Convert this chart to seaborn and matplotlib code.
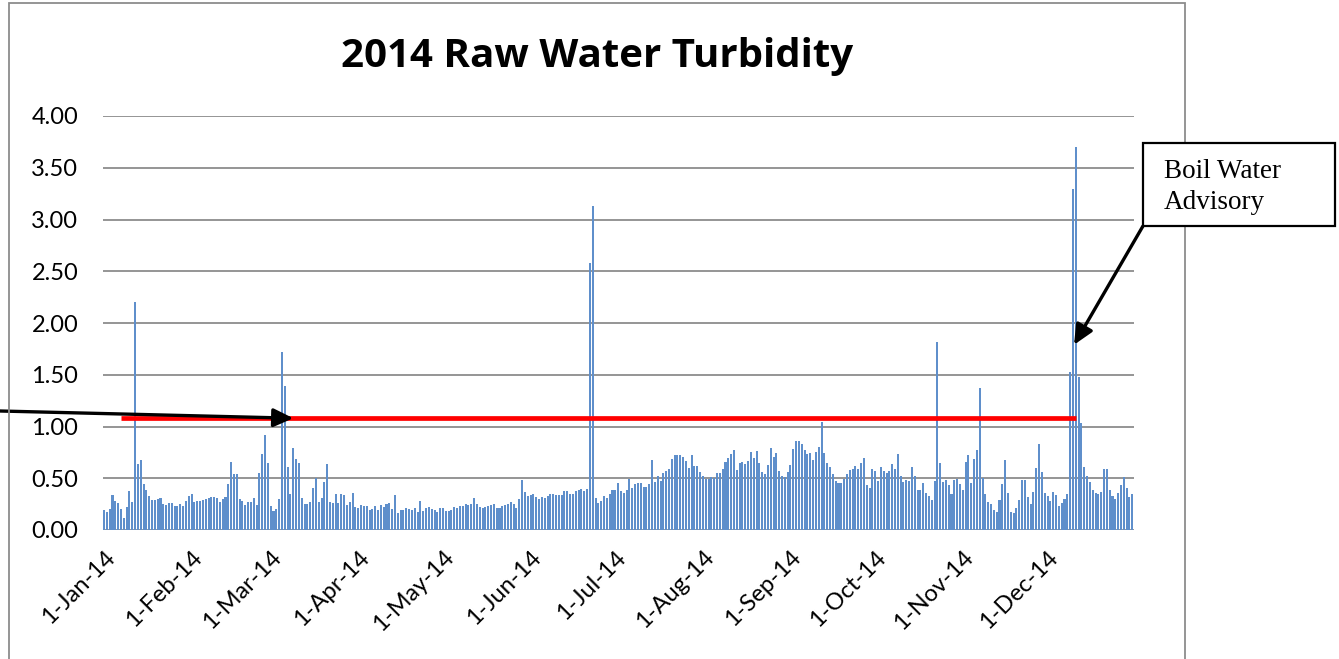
import numpy as np
import pandas as pd
import matplotlib
matplotlib.use("Agg")
import matplotlib.pyplot as plt
from matplotlib.patches import Rectangle
import seaborn as sns

# ---- data: daily raw water turbidity, 2014 ----
jan = [0.19, 0.17, 0.20, 0.34, 0.28, 0.26, 0.20, 0.12, 0.22, 0.38, 0.27, 2.20, 0.64, 0.68, 0.44, 0.39,
       0.33, 0.29, 0.29, 0.30, 0.31, 0.25, 0.24, 0.26, 0.26, 0.23, 0.23, 0.25, 0.23, 0.28, 0.33]
feb = [0.35, 0.27, 0.28, 0.28, 0.29, 0.30, 0.31, 0.32, 0.32, 0.31, 0.27, 0.30, 0.32, 0.44, 0.66, 0.54,
       0.54, 0.30, 0.28, 0.24, 0.27, 0.27, 0.31, 0.24, 0.55, 0.73, 0.92, 0.65]
mar = [0.23, 0.18, 0.20, 0.30, 1.72, 1.39, 0.61, 0.35, 0.79, 0.69, 0.65, 0.31, 0.25, 0.25, 0.27, 0.41,
       0.50, 0.27, 0.31, 0.46, 0.64, 0.27, 0.26, 0.35, 0.26, 0.35, 0.34, 0.24, 0.27, 0.36, 0.22]
apr = [0.21, 0.24, 0.23, 0.23, 0.19, 0.20, 0.23, 0.19, 0.24, 0.22, 0.25, 0.26, 0.20, 0.34, 0.16, 0.19,
       0.19, 0.21, 0.20, 0.19, 0.21, 0.17, 0.28, 0.18, 0.21, 0.22, 0.20, 0.19, 0.17, 0.21]
may = [0.21, 0.18, 0.18, 0.19, 0.22, 0.21, 0.23, 0.23, 0.25, 0.24, 0.25, 0.31, 0.25, 0.22, 0.21, 0.22,
       0.23, 0.24, 0.25, 0.21, 0.21, 0.23, 0.24, 0.25, 0.27, 0.25, 0.21, 0.30, 0.48, 0.37, 0.33]
jun = [0.34, 0.35, 0.32, 0.30, 0.32, 0.31, 0.33, 0.35, 0.35, 0.34, 0.34, 0.34, 0.38, 0.38, 0.35, 0.35,
       0.38, 0.39, 0.40, 0.38, 0.40, 2.58, 3.13, 0.31, 0.26, 0.28, 0.33, 0.31, 0.35, 0.39]
jul = [0.39, 0.45, 0.38, 0.36, 0.39, 0.49, 0.41, 0.44, 0.45, 0.45, 0.42, 0.42, 0.44, 0.68, 0.46, 0.52,
       0.47, 0.55, 0.57, 0.59, 0.69, 0.72, 0.72, 0.72, 0.71, 0.67, 0.60, 0.72, 0.62, 0.62, 0.56]
aug = [0.52, 0.49, 0.49, 0.51, 0.50, 0.55, 0.55, 0.59, 0.66, 0.70, 0.73, 0.77, 0.58, 0.65, 0.66, 0.64,
       0.67, 0.75, 0.70, 0.76, 0.65, 0.56, 0.54, 0.63, 0.79, 0.71, 0.74, 0.57, 0.52, 0.51, 0.56]
sep = [0.63, 0.78, 0.86, 0.86, 0.83, 0.77, 0.73, 0.74, 0.68, 0.75, 0.80, 1.04, 0.74, 0.65, 0.61, 0.54,
       0.47, 0.45, 0.45, 0.49, 0.54, 0.58, 0.59, 0.62, 0.59, 0.65, 0.70, 0.43, 0.41, 0.59]
oct_ = [0.57, 0.47, 0.61, 0.57, 0.55, 0.57, 0.64, 0.59, 0.73, 0.52, 0.46, 0.48, 0.47, 0.61, 0.52, 0.39,
        0.39, 0.45, 0.36, 0.33, 0.29, 0.47, 1.82, 0.65, 0.46, 0.48, 0.43, 0.35, 0.48, 0.49, 0.44]
nov = [0.39, 0.66, 0.72, 0.45, 0.69, 0.77, 1.37, 0.50, 0.35, 0.27, 0.25, 0.19, 0.17, 0.29, 0.44, 0.68,
       0.36, 0.17, 0.16, 0.21, 0.29, 0.48, 0.48, 0.32, 0.25, 0.37, 0.60, 0.83, 0.56, 0.36]
dec = [0.33, 0.28, 0.37, 0.34, 0.23, 0.26, 0.30, 0.35, 1.53, 3.29, 3.70, 1.48, 1.03, 0.61, 0.52, 0.46,
       0.39, 0.36, 0.35, 0.37, 0.59, 0.59, 0.39, 0.33, 0.30, 0.36, 0.43, 0.51, 0.41, 0.32, 0.35]

month_labels = ["1-Jan-14", "1-Feb-14", "1-Mar-14", "1-Apr-14", "1-May-14", "1-Jun-14",
                "1-Jul-14", "1-Aug-14", "1-Sep-14", "1-Oct-14", "1-Nov-14", "1-Dec-14"]
y_ticks = [0.0, 0.5, 1.0, 1.5, 2.0, 2.5, 3.0, 3.5, 4.0]
threshold = 1.08
threshold_start = "2014-01-07"
threshold_end = "2014-12-11"
title = "2014 Raw Water Turbidity"
advisory_text = "Boil Water\nAdvisory"
advisory_point = ("2014-12-10", 1.79)
left_arrow_point = ("2014-03-09", 1.08)

values = jan + feb + mar + apr + may + jun + jul + aug + sep + oct_ + nov + dec
dates = pd.date_range("2014-01-01", periods=len(values), freq="D")
df = pd.DataFrame({"date": dates, "turbidity": values})
df["day"] = (df["date"] - dates[0]).dt.days

def day_of(s):
    return (pd.Timestamp(s) - dates[0]).days

# ---- figure ----
W, H = 1339, 659
sns.set_style("white")
plt.rcParams["font.family"] = ["Lato", "DejaVu Sans"]
plt.rcParams["text.color"] = "black"
plt.rcParams["xtick.color"] = "black"
plt.rcParams["ytick.color"] = "black"
fig = plt.figure(figsize=(W / 100, H / 100), dpi=100)
ax_l, ax_r, ax_b, ax_t = 102.6, 1133.7, 530, 116
ax = fig.add_axes([ax_l / W, 1 - ax_b / H, (ax_r - ax_l) / W, (ax_b - ax_t) / H])

sns.barplot(data=df, x="day", y="turbidity", native_scale=True, width=0.72,
            color="#5F8FCB", saturation=1, errorbar=None, linewidth=0, ax=ax, zorder=3)

ax.set_xlim(-0.5, len(values) - 0.5)
ax.set_ylim(0, 4.0)
ax.set_yticks(y_ticks)
ax.set_yticklabels([f"{v:.2f}" for v in y_ticks], fontsize=17)
ax.yaxis.grid(True, color="#8C8C8C", linewidth=1.3, zorder=0)
ax.xaxis.grid(False)
for s in ax.spines.values():
    s.set_visible(False)
month_days = [day_of(f"2014-{m:02d}-01") for m in range(1, 13)]
ax.set_xticks(month_days)
ax.set_xticklabels(month_labels, rotation=45, ha="right", rotation_mode="anchor", fontsize=17)
ax.tick_params(axis="y", length=0, pad=17.5)
ax.tick_params(axis="x", length=0, pad=12)
ax.set_xlabel("")
ax.set_ylabel("")

# threshold line
ax.plot([day_of(threshold_start), day_of(threshold_end)], [threshold, threshold],
        color="#FF0000", linewidth=3.4, zorder=4, solid_capstyle="butt")

# title
fig.text(597 / W, 1 - 67 / H, title, ha="center", va="baseline",
         fontsize=29, fontweight="bold", family=["Open Sans", "DejaVu Sans"])

# chart area border
fig.patches.append(Rectangle((9 / W, -0.02), (1185 - 9) / W, (H - 3) / H + 0.02,
                             transform=fig.transFigure, fill=False,
                             edgecolor="#8C8C8C", linewidth=1.3, zorder=0))

# left arrow
ax.annotate("", xy=(day_of(left_arrow_point[0]), left_arrow_point[1]), xycoords="data",
            xytext=(0, H - 411), textcoords="figure pixels", annotation_clip=False,
            arrowprops=dict(arrowstyle="-|>,head_length=0.6,head_width=0.28",
                            mutation_scale=20, color="black", lw=2.4,
                            shrinkA=0, shrinkB=0), zorder=6)

# advisory box
bx0, by0, bx1, by1 = 1143, 143, 1335, 226
fig.patches.append(Rectangle((bx0 / W, 1 - by1 / H), (bx1 - bx0) / W, (by1 - by0) / H,
                             transform=fig.transFigure, facecolor="white",
                             edgecolor="black", linewidth=1.6, zorder=1))
fig.text(1164 / W, 1 - 209 / H, advisory_text, ha="left", va="baseline",
         fontsize=19.5, family=["Liberation Serif", "DejaVu Serif"], linespacing=1.33, zorder=6)
ax.annotate("", xy=(day_of(advisory_point[0]) + 0.4, advisory_point[1]), xycoords="data",
            xytext=(bx0, H - by1), textcoords="figure pixels", annotation_clip=False,
            arrowprops=dict(arrowstyle="-|>,head_length=0.6,head_width=0.28",
                            mutation_scale=20, color="black", lw=2.4,
                            shrinkA=0, shrinkB=0), zorder=6)

fig.savefig("out.png", dpi=100)
